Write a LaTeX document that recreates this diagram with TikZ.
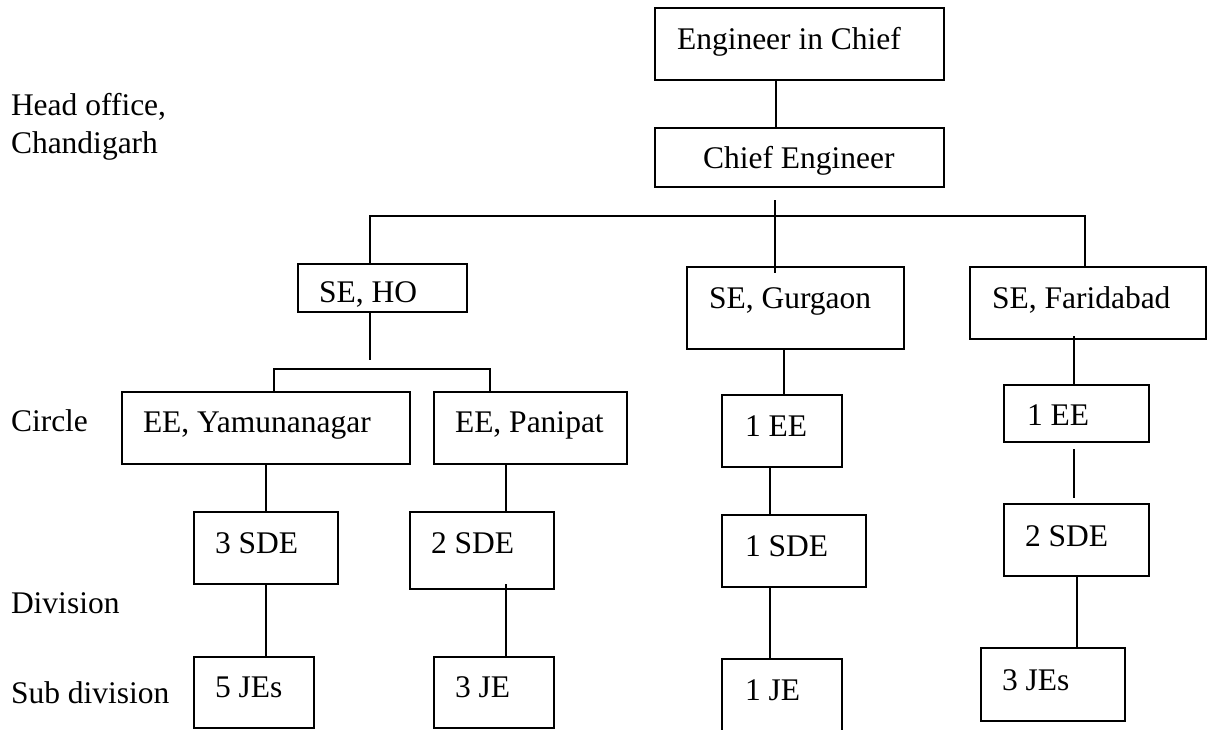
\documentclass[tikz,border=0pt]{standalone}
\usepackage{fontspec}
\setmainfont{Liberation Serif}
\usetikzlibrary{calc}
\begin{document}
\begin{tikzpicture}[x=1pt,y=-1pt,
  box/.style={draw, line width=1.6pt, inner sep=0pt, outer sep=0pt, anchor=north west},
  txt/.style={anchor=base west, inner sep=0pt, outer sep=0pt, font=\fontsize{31.5}{38}\selectfont},
  wire/.style={line width=1.6pt}]
\useasboundingbox (0,0) rectangle (1208,729);

% level labels on the left
\node[txt] (lhead) at (11,115) {Head office,};
\node[txt] (lchd)  at (11,153) {Chandigarh};
\node[txt] (lcir)  at (11,431) {Circle};
\node[txt] (ldiv)  at (11,613) {Division};
\node[txt] (lsub)  at (11,703) {Sub division};

% boxes
\node[box, minimum width=289pt, minimum height=72pt] (eic)    at (655,8)   {};
\node[box, minimum width=289pt, minimum height=59pt] (ce)     at (655,128) {};
\node[box, minimum width=169pt, minimum height=48pt] (seho)   at (298,264) {};
\node[box, minimum width=217pt, minimum height=82pt] (segur)  at (687,267) {};
\node[box, minimum width=236pt, minimum height=72pt] (sefar)  at (970,267) {};
\node[box, minimum width=288pt, minimum height=72pt] (eeyam)  at (122,392) {};
\node[box, minimum width=193pt, minimum height=72pt] (eepan)  at (434,392) {};
\node[box, minimum width=120pt, minimum height=72pt] (eegur)  at (722,395) {};
\node[box, minimum width=145pt, minimum height=57pt] (eefar)  at (1004,385) {};
\node[box, minimum width=144pt, minimum height=72pt] (sdeyam) at (194,512) {};
\node[box, minimum width=144pt, minimum height=77pt] (sdepan) at (410,512) {};
\node[box, minimum width=144pt, minimum height=72pt] (sdegur) at (722,515) {};
\node[box, minimum width=145pt, minimum height=72pt] (sdefar) at (1004,504) {};
\node[box, minimum width=120pt, minimum height=71pt] (jeyam)  at (194,657) {};
\node[box, minimum width=120pt, minimum height=71pt] (jepan)  at (434,657) {};
\node[box, minimum width=120pt, minimum height=85pt] (jegur)  at (722,659) {};
\node[box, minimum width=144pt, minimum height=73pt] (jefar)  at (981,648) {};

% box texts
\node[txt] (teic)    at (677,49)  {Engineer in Chief};
\node[txt] (tce)     at (703,168) {Chief Engineer};
\node[txt] (tseho)   at (319,302) {SE, HO};
\node[txt] (tsegur)  at (709,308) {SE, Gurgaon};
\node[txt] (tsefar)  at (992,308) {SE, Faridabad};
\node[txt] (teeyam)  at (143,432) {EE, Yamunanagar};
\node[txt] (teepan)  at (455,432) {EE, Panipat};
\node[txt] (teegur)  at (745,436) {1 EE};
\node[txt] (teefar)  at (1027,425) {1 EE};
\node[txt] (tsdeyam) at (215,553) {3 SDE};
\node[txt] (tsdepan) at (431,553) {2 SDE};
\node[txt] (tsdegur) at (745,556) {1 SDE};
\node[txt] (tsdefar) at (1025,546) {2 SDE};
\node[txt] (tjeyam)  at (215,697) {5 JEs};
\node[txt] (tjepan)  at (455,697) {3 JE};
\node[txt] (tjegur)  at (745,700) {1 JE};
\node[txt] (tjefar)  at (1002,690) {3 JEs};

% connector columns
\coordinate (c0)   at (776,0);
\coordinate (cs)   at (775,0);
\coordinate (busL) at (370,216);
\coordinate (busR) at (1085,216);
\coordinate (ky)   at (274,369);
\coordinate (kp)   at (490,369);
\coordinate (cy)   at (266,0);
\coordinate (cp)   at (506,0);
\coordinate (cg1)  at (784,0);
\coordinate (cg2)  at (770,0);
\coordinate (cf1)  at (1074,0);
\coordinate (cf2)  at (1077,0);

% head office
\draw[wire] (eic.south -| c0) -- (ce.north -| c0);
\draw[wire] ($(ce.south -| cs)+(0,13)$) -- ($(segur.north -| cs)+(0,6)$);
\draw[wire] (seho.north -| busL) |- (busR) -- (sefar.north -| busR);

% SE, HO branch
\draw[wire] (seho.south -| busL) -- ($(ky -| busL)+(0,-9)$);
\draw[wire] (eeyam.north -| ky) -- (ky) -- (kp) -- (eepan.north -| kp);
\draw[wire] (eeyam.south -| cy) -- (sdeyam.north -| cy);
\draw[wire] (sdeyam.south -| cy) -- (jeyam.north -| cy);
\draw[wire] (eepan.south -| cp) -- (sdepan.north -| cp);
\draw[wire] ($(sdepan.south -| cp)+(0,-5)$) -- (jepan.north -| cp);

% SE, Gurgaon branch
\draw[wire] (segur.south -| cg1) -- (eegur.north -| cg1);
\draw[wire] (eegur.south -| cg2) -- (sdegur.north -| cg2);
\draw[wire] (sdegur.south -| cg2) -- (jegur.north -| cg2);

% SE, Faridabad branch
\draw[wire] ($(sefar.south -| cf1)+(0,-3)$) -- (eefar.north -| cf1);
\draw[wire] ($(eefar.south -| cf1)+(0,7)$) -- ($(sdefar.north -| cf1)+(0,-6)$);
\draw[wire] (sdefar.south -| cf2) -- (jefar.north -| cf2);
\end{tikzpicture}
\end{document}
